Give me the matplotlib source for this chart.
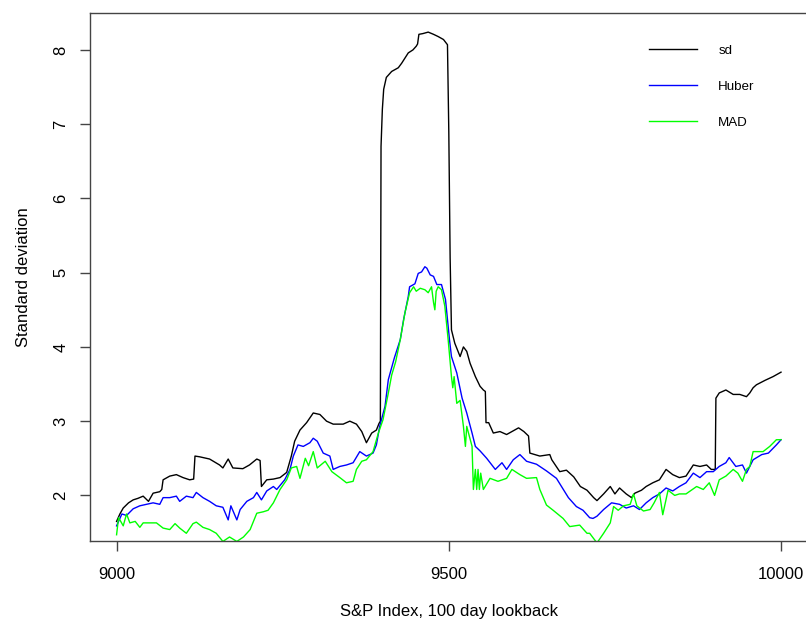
import matplotlib
matplotlib.use("Agg")
import matplotlib.pyplot as plt

plt.rcParams["font.family"] = ["Liberation Sans", "DejaVu Sans"]

# rolling 100 day standard deviation of the S&P index, three estimators
sd_day = [9000, 9005, 9010, 9018, 9025, 9032, 9040, 9048, 9055, 9065, 9068, 9070,
          9080, 9090, 9100, 9110, 9116, 9118, 9125, 9140, 9155, 9160, 9168, 9175,
          9190, 9200, 9211, 9216, 9218, 9226, 9236, 9246, 9256, 9263, 9268, 9276,
          9286, 9296, 9306, 9316, 9326, 9341, 9351, 9361, 9369, 9376, 9384, 9391,
          9395, 9397, 9398, 9400, 9402, 9406, 9414, 9424, 9429, 9439, 9446, 9451,
          9453, 9455, 9461, 9469, 9477, 9484, 9492, 9498, 9500, 9502, 9504, 9509,
          9517, 9522, 9527, 9532, 9540, 9547, 9552, 9555, 9556, 9560, 9567, 9577,
          9587, 9595, 9605, 9613, 9620, 9622, 9637, 9652, 9655, 9667, 9677, 9688,
          9698, 9708, 9718, 9723, 9733, 9743, 9750, 9757, 9767, 9775, 9780, 9790,
          9797, 9807, 9817, 9827, 9837, 9847, 9857, 9868, 9878, 9888, 9895, 9901,
          9902, 9907, 9917, 9928, 9938, 9948, 9953, 9958, 9963, 9976, 9988, 10000]
sd_val = [1.65, 1.75, 1.83, 1.90, 1.94, 1.96, 1.99, 1.92, 2.03, 2.05, 2.08, 2.21,
          2.26, 2.28, 2.24, 2.21, 2.22, 2.53, 2.52, 2.49, 2.41, 2.37, 2.49, 2.37,
          2.36, 2.41, 2.49, 2.47, 2.12, 2.21, 2.22, 2.24, 2.31, 2.53, 2.73, 2.88,
          2.98, 3.11, 3.09, 3.00, 2.96, 2.96, 3.00, 2.96, 2.86, 2.71, 2.84, 2.88,
          2.97, 3.00, 6.70, 7.20, 7.47, 7.63, 7.71, 7.76, 7.82, 7.96, 8.00, 8.05,
          8.08, 8.21, 8.22, 8.24, 8.21, 8.18, 8.14, 8.07, 6.90, 5.20, 4.23, 4.05,
          3.87, 4.00, 3.94, 3.78, 3.60, 3.47, 3.42, 3.40, 2.98, 2.98, 2.84, 2.86,
          2.82, 2.86, 2.91, 2.86, 2.80, 2.57, 2.53, 2.55, 2.48, 2.32, 2.34, 2.25,
          2.12, 2.07, 1.97, 1.93, 2.02, 2.12, 2.02, 2.10, 2.02, 1.97, 2.03, 2.07,
          2.12, 2.17, 2.21, 2.35, 2.28, 2.24, 2.26, 2.41, 2.39, 2.41, 2.35, 2.35,
          3.31, 3.38, 3.42, 3.36, 3.36, 3.33, 3.38, 3.45, 3.49, 3.55, 3.60, 3.66]

huber_day = [9000, 9008, 9015, 9025, 9035, 9045, 9055, 9065, 9070, 9080, 9090, 9095,
             9105, 9115, 9120, 9130, 9140, 9150, 9160, 9168, 9172, 9181, 9186, 9196,
             9206, 9211, 9218, 9226, 9236, 9241, 9253, 9261, 9266, 9273, 9281, 9291,
             9296, 9302, 9311, 9321, 9326, 9336, 9346, 9356, 9366, 9376, 9386, 9391,
             9396, 9404, 9409, 9418, 9427, 9432, 9439, 9441, 9449, 9454, 9459, 9464,
             9467, 9472, 9477, 9482, 9489, 9495, 9498, 9501, 9504, 9512, 9520, 9527,
             9535, 9540, 9547, 9557, 9570, 9580, 9587, 9597, 9607, 9617, 9632, 9647,
             9662, 9680, 9692, 9702, 9712, 9717, 9723, 9733, 9745, 9757, 9767, 9778,
             9787, 9797, 9807, 9817, 9827, 9837, 9847, 9857, 9868, 9878, 9888, 9898,
             9907, 9917, 9922, 9932, 9942, 9948, 9958, 9971, 9981, 9993, 10000]
huber_val = [1.59, 1.75, 1.73, 1.82, 1.86, 1.88, 1.90, 1.88, 1.97, 1.97, 1.99, 1.92,
             1.99, 1.97, 2.04, 1.97, 1.92, 1.86, 1.84, 1.67, 1.86, 1.67, 1.81, 1.92,
             1.97, 2.04, 1.94, 2.06, 2.12, 2.08, 2.21, 2.35, 2.53, 2.68, 2.66, 2.71,
             2.77, 2.73, 2.57, 2.53, 2.35, 2.39, 2.41, 2.44, 2.59, 2.53, 2.57, 2.68,
             2.93, 3.20, 3.56, 3.85, 4.10, 4.37, 4.68, 4.81, 4.85, 4.99, 5.01, 5.08,
             5.06, 4.97, 4.95, 4.84, 4.84, 4.64, 4.37, 4.10, 3.87, 3.65, 3.31, 3.11,
             2.84, 2.66, 2.60, 2.50, 2.35, 2.44, 2.35, 2.48, 2.55, 2.46, 2.42, 2.33,
             2.23, 1.97, 1.85, 1.80, 1.70, 1.69, 1.72, 1.81, 1.90, 1.88, 1.83, 1.86,
             1.81, 1.90, 1.97, 2.02, 2.10, 2.06, 2.12, 2.17, 2.30, 2.24, 2.32, 2.32,
             2.39, 2.44, 2.51, 2.39, 2.41, 2.30, 2.48, 2.55, 2.57, 2.68, 2.75]

mad_day = [9000, 9003, 9005, 9010, 9015, 9020, 9028, 9035, 9040, 9050, 9060, 9070,
           9080, 9088, 9095, 9105, 9115, 9120, 9130, 9140, 9150, 9160, 9170, 9181,
           9191, 9201, 9211, 9221, 9228, 9236, 9246, 9256, 9263, 9271, 9276, 9284,
           9289, 9296, 9302, 9314, 9324, 9336, 9346, 9356, 9361, 9369, 9376, 9386,
           9394, 9401, 9409, 9414, 9420, 9427, 9434, 9441, 9447, 9451, 9457, 9464,
           9469, 9474, 9477, 9479, 9481, 9484, 9489, 9494, 9497, 9499, 9504, 9506,
           9508, 9512, 9517, 9522, 9525, 9527, 9535, 9537, 9540, 9542, 9544, 9546,
           9548, 9552, 9562, 9574, 9587, 9595, 9607, 9617, 9632, 9637, 9647, 9657,
           9672, 9682, 9697, 9708, 9712, 9723, 9733, 9743, 9748, 9755, 9763, 9773,
           9778, 9783, 9793, 9803, 9809, 9817, 9822, 9830, 9840, 9847, 9857, 9873,
           9883, 9892, 9900, 9907, 9917, 9928, 9935, 9942, 9948, 9953, 9958, 9973,
           9983, 9993, 10000]
mad_val = [1.47, 1.70, 1.67, 1.59, 1.75, 1.63, 1.65, 1.57, 1.63, 1.63, 1.63, 1.56,
           1.54, 1.62, 1.56, 1.49, 1.62, 1.64, 1.57, 1.54, 1.49, 1.38, 1.44, 1.38,
           1.44, 1.54, 1.76, 1.78, 1.80, 1.90, 2.08, 2.21, 2.37, 2.39, 2.23, 2.50,
           2.40, 2.59, 2.37, 2.46, 2.32, 2.24, 2.17, 2.19, 2.35, 2.46, 2.48, 2.59,
           2.84, 3.02, 3.38, 3.62, 3.80, 4.10, 4.46, 4.73, 4.81, 4.75, 4.79, 4.77,
           4.73, 4.81, 4.60, 4.50, 4.75, 4.81, 4.77, 4.55, 4.28, 4.10, 3.60, 3.45,
           3.60, 3.24, 3.28, 2.93, 2.66, 2.93, 2.66, 2.08, 2.35, 2.08, 2.35, 2.08,
           2.30, 2.08, 2.23, 2.19, 2.23, 2.35, 2.28, 2.23, 2.24, 2.08, 1.87, 1.80,
           1.69, 1.58, 1.60, 1.49, 1.49, 1.36, 1.49, 1.63, 1.85, 1.80, 1.86, 1.88,
           2.02, 1.86, 1.79, 1.81, 1.90, 2.04, 1.74, 2.07, 2.00, 2.02, 2.02, 2.12,
           2.08, 2.17, 2.00, 2.21, 2.26, 2.35, 2.30, 2.19, 2.35, 2.39, 2.59, 2.59,
           2.66, 2.75, 2.75]

W, H = 806, 623
fig = plt.figure(figsize=(W / 100, H / 100), dpi=100)
fig.patch.set_facecolor("white")

# plot region in pixels: left 90, right ~808 (runs off the edge), top 12.5, bottom 541
ax = fig.add_axes([90 / W, 1 - 541 / H, (807.6 - 90) / W, (541 - 12.5) / H])

ax.plot(sd_day, sd_val, color="black", lw=1.0, label="sd")
ax.plot(huber_day, huber_val, color="#0000ff", lw=1.0, label="Huber")
ax.plot(mad_day, mad_val, color="#00ff00", lw=1.0, label="MAD")

ax.set_xlim(8960, 10040)
ax.set_ylim(1.386, 8.504)

ax.set_xticks([9000, 9500, 10000])
ax.set_yticks([2, 3, 4, 5, 6, 7, 8])
ax.tick_params(direction="out", length=7.5, width=1.0, color="#444444",
               labelsize=12, labelcolor="black")
ax.tick_params(axis="x", pad=11)
ax.tick_params(axis="y", pad=8)
for lab in ax.get_yticklabels():
    lab.set_rotation(90)
    lab.set_va("center")

for sp in ax.spines.values():
    sp.set_color("#444444")
    sp.set_linewidth(1.0)

ax.set_xlabel("S&P Index, 100 day lookback", fontsize=12, labelpad=16)
ax.set_ylabel("Standard deviation", fontsize=12, labelpad=16)

ax.legend(loc="upper left", bbox_to_anchor=(649 / W, 1 - 44.7 / H),
          bbox_transform=fig.transFigure, frameon=False, fontsize=9.6,
          handlelength=3.6, handletextpad=1.6, labelspacing=1.78,
          borderpad=0, borderaxespad=0)

fig.savefig("out.png", dpi=100)
